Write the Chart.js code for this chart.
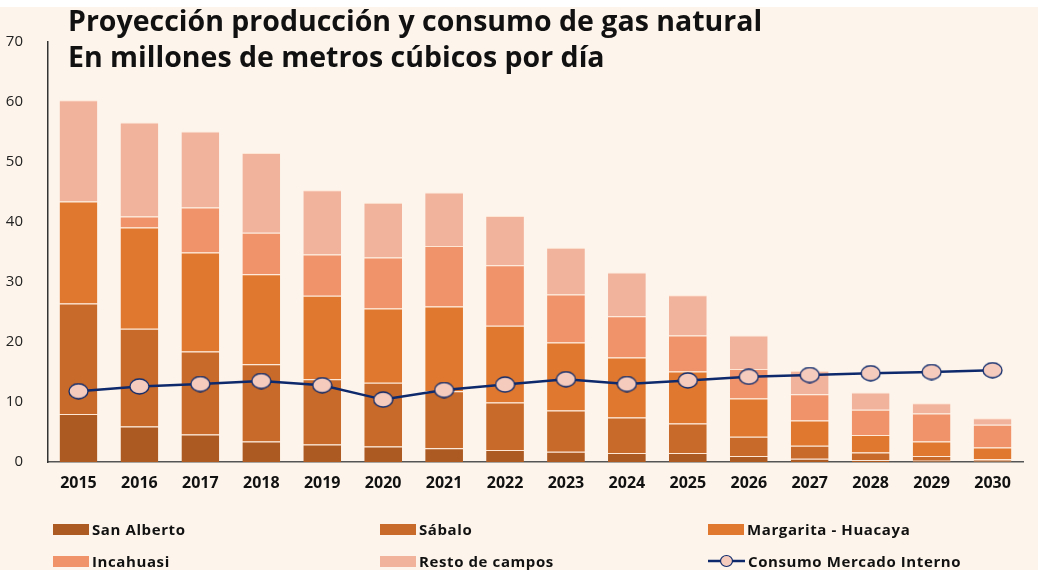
<!DOCTYPE html>
<html>
<head>
<meta charset="utf-8">
<script src="https://cdn.jsdelivr.net/npm/chart.js@4.4.1/dist/chart.umd.min.js"></script>
<style>
    html, body {
        margin: 0;
        padding: 0;
        background: #fdf4eb;
        font-family: 'Open Sans', 'Lato', sans-serif;
    }
    .wrap {
        position: relative;
        width: 1038px;
        height: 570px;
        overflow: hidden;
    }
    .top-strip {
        position: absolute;
        left: 0; top: 0;
        width: 1038px; height: 7px;
        background: #ffffff;
    }
    canvas { position: absolute; left: 0; top: 0; }
    .title {
        position: absolute;
        left: 68px;
        top: 2px;
        font-weight: 700;
        font-size: 28.5px;
        line-height: 36px;
        color: #111;
        white-space: nowrap;
    }
    .legend-item {
        position: absolute;
        display: flex;
        align-items: center;
        font-weight: 700;
        font-size: 15px;
        letter-spacing: 0.6px;
        color: #111;
        white-space: nowrap;
    }
    .swatch {
        width: 36px;
        height: 11px;
        margin-right: 3px;
    }
</style>
</head>
<body>
<div class="wrap">
    <div class="top-strip"></div>
    <canvas id="gasChart" width="1038" height="570"></canvas>
    <div class="title">Proyección producción y consumo de gas natural<br>En millones de metros cúbicos por día</div>
    <div id="legend"></div>
</div>
<script>
// Years on the x axis
const years = ['2015', '2016', '2017', '2018', '2019', '2020', '2021', '2022',
               '2023', '2024', '2025', '2026', '2027', '2028', '2029', '2030'];

// Production by field (MMm3/d), stacked
const sanAlberto = [8.0, 5.9, 4.6, 3.4, 2.9, 2.6, 2.3, 2.0, 1.7, 1.5, 1.5, 1.0, 0.55, 0.3, 0.2, 0.2];
const sabalo     = [18.4, 16.3, 13.8, 12.9, 10.9, 10.6, 9.5, 7.9, 6.9, 5.9, 4.9, 3.2, 2.15, 1.3, 0.8, 0.25];
const margarita  = [17.0, 16.9, 16.5, 15.0, 13.9, 12.4, 14.1, 12.8, 11.3, 10.0, 8.7, 6.4, 4.2, 2.9, 2.4, 1.95];
const incahuasi  = [0, 1.8, 7.5, 6.9, 6.9, 8.5, 10.1, 10.1, 8.0, 6.9, 6.0, 4.9, 4.4, 4.2, 4.7, 3.8];
const resto      = [16.9, 15.7, 12.7, 13.3, 10.7, 9.1, 8.9, 8.2, 7.8, 7.3, 6.7, 5.6, 3.9, 2.9, 1.7, 1.1];

// Domestic market consumption
const consumo    = [11.8, 12.6, 13.0, 13.5, 12.8, 10.4, 12.0, 12.9, 13.8, 13.0, 13.6, 14.2, 14.5, 14.8, 15.0, 15.3];

const yTicks = [0, 10, 20, 30, 40, 50, 60, 70];

const colors = {
    sanAlberto: '#ad5a22',
    sabalo: '#c86a29',
    margarita: '#e0792f',
    incahuasi: '#f0936a',
    resto: '#f2b39d',
    line: '#0e2a6c',
    marker: '#f5cbbd'
};

// Ellipse marker (wider than tall, like the original)
function makeMarker(w, h) {
    const c = document.createElement('canvas');
    c.width = w + 2;
    c.height = h + 2;
    const g = c.getContext('2d');
    g.beginPath();
    g.ellipse(c.width / 2, c.height / 2, w / 2, h / 2, 0, 0, Math.PI * 2);
    g.fillStyle = colors.marker;
    g.fill();
    g.lineWidth = 1.3;
    g.strokeStyle = colors.line;
    g.stroke();
    return c;
}
const marker = makeMarker(19, 15);

function barSet(label, data, color) {
    return {
        type: 'bar',
        label: label,
        data: data,
        backgroundColor: color,
        borderColor: 'rgba(255, 225, 205, 0.7)',
        borderWidth: { top: 1, bottom: 0, left: 0, right: 0 },
        borderSkipped: false,
        barPercentage: 0.62,
        categoryPercentage: 1,
        stack: 'prod',
        order: 1
    };
}

new Chart(document.getElementById('gasChart'), {
    data: {
        labels: years,
        datasets: [
            barSet('San Alberto', sanAlberto, colors.sanAlberto),
            barSet('Sábalo', sabalo, colors.sabalo),
            barSet('Margarita - Huacaya', margarita, colors.margarita),
            barSet('Incahuasi', incahuasi, colors.incahuasi),
            barSet('Resto de campos', resto, colors.resto),
            {
                type: 'line',
                label: 'Consumo Mercado Interno',
                data: consumo,
                borderColor: colors.line,
                borderWidth: 2.5,
                pointStyle: marker,
                pointRadius: 8,
                tension: 0,
                order: 0
            }
        ]
    },
    options: {
        responsive: false,
        animation: false,
        layout: {
            padding: { left: 0, right: 15, top: 42, bottom: 0 }
        },
        plugins: {
            legend: { display: false },
            tooltip: { enabled: false }
        },
        scales: {
            x: {
                stacked: true,
                grid: { display: false },
                border: { display: true, color: '#555', width: 1.5 },
                ticks: {
                    color: '#111',
                    font: { family: 'Open Sans', size: 16, weight: 'bold' },
                    padding: 4
                },
                afterFit: s => { s.height = 108; }
            },
            y: {
                stacked: true,
                min: 0,
                max: 70,
                afterBuildTicks: s => { s.ticks = yTicks.map(v => ({ value: v })); },
                grid: { display: false },
                border: { display: true, color: '#333', width: 1.5 },
                ticks: {
                    color: '#222',
                    font: { family: 'Open Sans', size: 15 },
                    padding: 17
                },
                afterFit: s => { s.width = 48; }
            }
        }
    }
});

// Legend, three columns by two rows under the chart
const legendItems = [
    { label: 'San Alberto', color: colors.sanAlberto, x: 53, y: 529 },
    { label: 'Sábalo', color: colors.sabalo, x: 380, y: 529 },
    { label: 'Margarita - Huacaya', color: colors.margarita, x: 708, y: 529 },
    { label: 'Incahuasi', color: colors.incahuasi, x: 53, y: 561 },
    { label: 'Resto de campos', color: colors.resto, x: 380, y: 561 },
    { label: 'Consumo Mercado Interno', line: true, x: 708, y: 561 }
];
const legend = document.getElementById('legend');
legendItems.forEach(it => {
    const div = document.createElement('div');
    div.className = 'legend-item';
    div.style.left = it.x + 'px';
    div.style.top = (it.y - 10) + 'px';
    div.style.height = '20px';
    if (it.line) {
        div.innerHTML = `
            <svg width="37" height="14" style="margin-right:3px">
                <line x1="0" y1="7" x2="37" y2="7" stroke="${colors.line}" stroke-width="2.5"/>
                <ellipse cx="18.5" cy="7" rx="6" ry="5.5" fill="${colors.marker}" stroke="${colors.line}" stroke-width="1.2"/>
            </svg>${it.label}`;
    } else {
        div.innerHTML = `<span class="swatch" style="background:${it.color}"></span>${it.label}`;
    }
    legend.appendChild(div);
});
</script>
</body>
</html>
